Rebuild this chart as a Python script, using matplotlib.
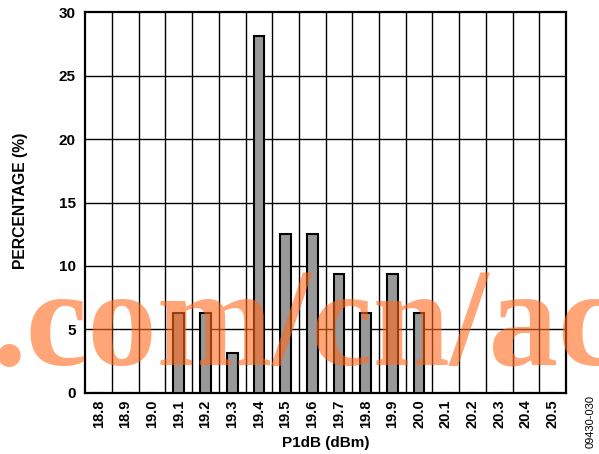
import matplotlib
matplotlib.use("Agg")
import matplotlib.pyplot as plt

categories = ["18.8", "18.9", "19.0", "19.1", "19.2", "19.3", "19.4", "19.5", "19.6",
              "19.7", "19.8", "19.9", "20.0", "20.1", "20.2", "20.3", "20.4", "20.5"]
percentages = [0, 0, 0, 6.25, 6.25, 3.125, 28.125, 12.5, 12.5,
               9.375, 6.25, 9.375, 6.25, 0, 0, 0, 0, 0]
y_ticks = [0, 5, 10, 15, 20, 25, 30]

W, H = 599, 454
fig = plt.figure(figsize=(W / 100, H / 100), dpi=100)
ax = fig.add_axes([85.3 / W, (H - 392.7) / H, (566 - 85.3) / W, (392.7 - 12.3) / H])

plt.rcParams['font.family'] = ['Liberation Sans', 'DejaVu Sans']

xs = list(range(len(categories)))
ax.bar(xs, percentages, width=0.4, color="#999999", edgecolor="black", linewidth=1.5, zorder=3)

ax.set_xlim(-0.5, len(categories) - 0.5)
ax.set_ylim(0, 30)
ax.set_yticks(y_ticks)
ax.set_yticklabels([str(t) for t in y_ticks], fontsize=11, fontweight="bold", family="Liberation Sans")
ax.set_xticks(xs)
ax.set_xticklabels(categories, rotation=90, fontsize=10.5, fontweight="bold", family="Liberation Sans")
ax.tick_params(axis="x", length=0, pad=5)
ax.tick_params(axis="y", length=0, pad=7)

for b in [i + 0.5 for i in range(len(categories) - 1)]:
    ax.axvline(b, color="black", linewidth=1.0, zorder=1)
for t in y_ticks[1:-1]:
    ax.axhline(t, color="black", linewidth=1.0, zorder=1)

for s in ax.spines.values():
    s.set_linewidth(1.6)

fig.text(325.5 / W, (H - 443) / H, "P1dB (dBm)", fontsize=11, fontweight="bold",
         family="Liberation Sans", ha="center", va="center")
fig.text(21 / W, (H - 201) / H, "PERCENTAGE (%)", fontsize=11.3, fontweight="bold",
         family="Liberation Sans", ha="center", va="center", rotation=90)

fig.text(590.5 / W, (H - 422) / H, "09430-030", rotation=90, fontsize=8,
         family="Liberation Sans", ha="center", va="center")

fig.text(-8 / W, (H - 365) / H, ".com/cn/ac", fontsize=100, fontweight="bold",
         family="Liberation Serif", color="#FF6A1F", alpha=0.6, ha="left", va="baseline",
         zorder=10)

fig.savefig("out.png", dpi=100)
